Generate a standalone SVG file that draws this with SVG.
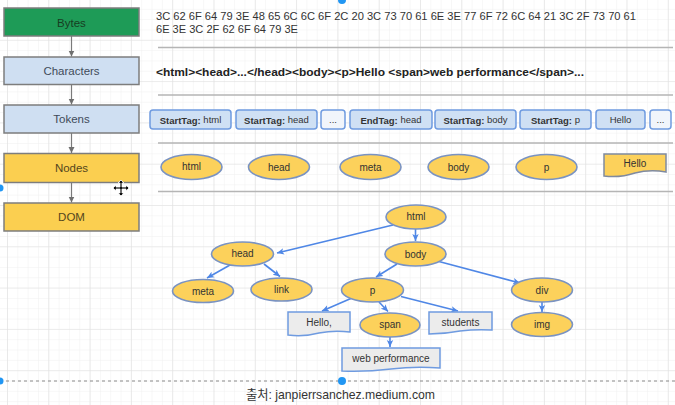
<svg xmlns="http://www.w3.org/2000/svg" width="675" height="405" viewBox="0 0 675 405">
<style>
.lbl{font-family:"Liberation Sans",Arial,sans-serif;font-size:11.5px;text-anchor:middle;dominant-baseline:central}
.stage{stroke:#7d7d7d;stroke-width:1.5}
.tok{fill:#cfe0f4;stroke:#6f9be0;stroke-width:1.5}
.tokd{fill:#f1f5fb;stroke:#6f9be0;stroke-width:1.5}
.tt{font-family:"Liberation Sans",Arial,sans-serif;font-size:9.5px;fill:#333;text-anchor:middle;dominant-baseline:central}
.nd{fill:#fcd15b;stroke:#7a93c2;stroke-width:1.6}
.nt{font-family:"Liberation Sans",Arial,sans-serif;font-size:10px;fill:#333;text-anchor:middle;dominant-baseline:central}
.doc{fill:#ececec;stroke:#6f9be0;stroke-width:1.5}
.sep{stroke:#b5b5b5;stroke-width:1.6}
.edge{stroke:#4f87e6;stroke-width:1.6;fill:none;marker-end:url(#ab)}
.gedge{stroke:#7a7a7a;stroke-width:1.2;fill:none;marker-end:url(#ag)}
.hdl{fill:#2196f3}
</style>
<defs>
<pattern id="minor" x="7" y="39.8" width="10.325" height="10.325" patternUnits="userSpaceOnUse">
<path d="M0 0H10.325M0 0V10.325" stroke="#f0f0f0" stroke-width="1" fill="none"/>
</pattern>
<pattern id="major" x="7" y="39.8" width="41.3" height="41.3" patternUnits="userSpaceOnUse">
<path d="M0 0H41.3M0 0V41.3" stroke="#e0e0e0" stroke-width="1.2" fill="none"/>
</pattern>
<marker id="ab" markerUnits="userSpaceOnUse" markerWidth="8" markerHeight="8" refX="7" refY="4" orient="auto">
<path d="M0 0.8L7 4L0 7.2L1.8 4Z" fill="#4f87e6"/>
</marker>
<marker id="ag" markerUnits="userSpaceOnUse" markerWidth="8" markerHeight="8" refX="6" refY="3.5" orient="auto">
<path d="M0 0.5L6 3.5L0 6.5Z" fill="#6f6f6f"/>
</marker>
</defs>
<rect width="675" height="405" fill="#ffffff"/>
<rect width="675" height="405" fill="url(#minor)"/>
<rect width="675" height="405" fill="url(#major)"/>

<g id="stages">
<g id="bytes"><rect class="stage" x="4" y="8" width="135" height="28" fill="#1e9b57"/><text class="lbl" x="71.5" y="22.5" fill="#173d22">Bytes</text></g>
<g id="characters"><rect class="stage" x="4" y="57" width="135" height="27.5" fill="#cfdff2"/><text class="lbl" x="71.5" y="71" fill="#3f4b5a">Characters</text></g>
<g id="tokens"><rect class="stage" x="4" y="105" width="135" height="28" fill="#cfdff2"/><text class="lbl" x="71.5" y="119" fill="#3f4b5a">Tokens</text></g>
<g id="nodes"><rect class="stage" x="4" y="153.5" width="135" height="29" fill="#fbcf50"/><text class="lbl" x="71.5" y="168" fill="#54461e">Nodes</text></g>
<g id="dom"><rect class="stage" x="4" y="203" width="135" height="28" fill="#fbcf50"/><text class="lbl" x="71.5" y="217" fill="#54461e">DOM</text></g>
</g>

<g id="stage-connectors">
<path class="gedge" d="M71.5 36V56.5"/>
<path class="gedge" d="M71.5 84.5V104.5"/>
<path class="gedge" d="M71.5 133V153"/>
<path class="gedge" d="M71.5 182.5V202.5"/>
</g>

<g id="separators">
<line class="sep" x1="158" y1="47.5" x2="673" y2="47.5"/>
<line class="sep" x1="158" y1="95" x2="673" y2="95"/>
<line class="sep" x1="158" y1="143" x2="673" y2="143"/>
<line class="sep" x1="158" y1="191.5" x2="673" y2="191.5"/>
</g>

<g id="bytes-text" font-family="Liberation Sans, Arial, sans-serif" font-size="11" fill="#333">
<text x="156" y="20" textLength="480" lengthAdjust="spacingAndGlyphs">3C 62 6F 64 79 3E 48 65 6C 6C 6F 2C 20 3C 73 70 61 6E 3E 77 6F 72 6C 64 21 3C 2F 73 70 61</text>
<text x="156" y="33" textLength="142" lengthAdjust="spacingAndGlyphs">6E 3E 3C 2F 62 6F 64 79 3E</text>
</g>

<g id="chars-text"><text x="156" y="75.5" font-family="Liberation Sans, Arial, sans-serif" font-size="11" font-weight="bold" fill="#222" textLength="428" lengthAdjust="spacingAndGlyphs">&lt;html&gt;&lt;head&gt;...&lt;/head&gt;&lt;body&gt;&lt;p&gt;Hello &lt;span&gt;web performance&lt;/span&gt;...</text></g>

<g id="token-row">
<g id="t1"><rect class="tok" x="150" y="110" width="81" height="19" rx="3"/><text class="tt" x="190.5" y="119.5"><tspan font-weight="bold">StartTag:</tspan> html</text></g>
<g id="t2"><rect class="tok" x="236" y="110" width="81" height="19" rx="3"/><text class="tt" x="276.5" y="119.5"><tspan font-weight="bold">StartTag:</tspan> head</text></g>
<g id="t3"><rect class="tokd" x="321" y="110" width="24" height="19" rx="3"/><text class="tt" x="333" y="119.5">...</text></g>
<g id="t4"><rect class="tok" x="350" y="110" width="82" height="19" rx="3"/><text class="tt" x="391" y="119.5"><tspan font-weight="bold">EndTag:</tspan> head</text></g>
<g id="t5"><rect class="tok" x="435" y="110" width="81" height="19" rx="3"/><text class="tt" x="475.5" y="119.5"><tspan font-weight="bold">StartTag:</tspan> body</text></g>
<g id="t6"><rect class="tok" x="520" y="110" width="71" height="19" rx="3"/><text class="tt" x="555.5" y="119.5"><tspan font-weight="bold">StartTag:</tspan> p</text></g>
<g id="t7"><rect class="tok" x="596" y="110" width="49" height="19" rx="3"/><text class="tt" x="620.5" y="119.5">Hello</text></g>
<g id="t8"><rect class="tokd" x="650" y="110" width="21" height="19" rx="3"/><text class="tt" x="660.5" y="119.5">...</text></g>
</g>

<g id="node-row">
<g id="n-html"><ellipse class="nd" cx="191.5" cy="167" rx="30.5" ry="12.5"/><text class="nt" x="191.5" y="166.5">html</text></g>
<g id="n-head"><ellipse class="nd" cx="279" cy="167" rx="30.5" ry="12.5"/><text class="nt" x="279" y="167">head</text></g>
<g id="n-meta"><ellipse class="nd" cx="370.5" cy="167" rx="30.5" ry="12.5"/><text class="nt" x="370.5" y="167">meta</text></g>
<g id="n-body"><ellipse class="nd" cx="458.5" cy="167" rx="30.5" ry="12.5"/><text class="nt" x="458.5" y="167.5">body</text></g>
<g id="n-p"><ellipse class="nd" cx="546.5" cy="167" rx="30.5" ry="12.5"/><text class="nt" x="546.5" y="167">p</text></g>
<g id="n-hello"><path d="M604 154H666V172Q650 169 635 173Q620 178 604 176Z" fill="#fcd15b" stroke="#7f8aa0" stroke-width="1.5"/><text class="nt" x="635" y="163.5">Hello</text></g>
</g>

<g id="dom-edges">
<path class="edge" d="M393 225L277 253"/>
<path class="edge" d="M415.5 229V241"/>
<path class="edge" d="M230 265L207 278"/>
<path class="edge" d="M264 264L280 276.5"/>
<path class="edge" d="M397 264L376 277"/>
<path class="edge" d="M437 261L520 283"/>
<path class="edge" d="M352 298L322 311"/>
<path class="edge" d="M379 302L388 311.5"/>
<path class="edge" d="M401 296.5L458 311"/>
<path class="edge" d="M390 337V347"/>
<path class="edge" d="M542 302V312"/>
</g>

<g id="dom-tree">
<g id="d-html"><ellipse class="nd" cx="416" cy="217" rx="30" ry="12"/><text class="nt" x="416" y="216.5">html</text></g>
<g id="d-body"><ellipse class="nd" cx="415.5" cy="254" rx="30.5" ry="12"/><text class="nt" x="415.5" y="254">body</text></g>
<g id="d-head"><ellipse class="nd" cx="242.5" cy="254" rx="31" ry="12"/><text class="nt" x="242.5" y="253.5">head</text></g>
<g id="d-meta"><ellipse class="nd" cx="203" cy="291" rx="30.5" ry="11.5"/><text class="nt" x="203" y="291">meta</text></g>
<g id="d-link"><ellipse class="nd" cx="281.5" cy="289.5" rx="30.5" ry="11.5"/><text class="nt" x="281.5" y="289">link</text></g>
<g id="d-p"><ellipse class="nd" cx="372.5" cy="290" rx="31" ry="12"/><text class="nt" x="372.5" y="290">p</text></g>
<g id="d-div"><ellipse class="nd" cx="542" cy="290" rx="30.5" ry="12"/><text class="nt" x="542" y="290">div</text></g>
<g id="d-span"><ellipse class="nd" cx="390" cy="325" rx="30" ry="12"/><text class="nt" x="390" y="324.5">span</text></g>
<g id="d-img"><ellipse class="nd" cx="542" cy="324.5" rx="30.5" ry="12"/><text class="nt" x="542" y="324.5">img</text></g>
<g id="d-hello"><path class="doc" d="M288 312H350V332Q334 330 319 333Q304 337 288 335Z"/><text class="nt" x="319" y="322.5">Hello,</text></g>
<g id="d-students"><path class="doc" d="M429 312H492V330Q476 329 460 331Q445 334 429 334Z"/><text class="nt" x="460.5" y="322">students</text></g>
<g id="d-web"><path class="doc" d="M342 348H440V368Q415 366 391 369Q366 372 342 371Z"/><text class="nt" x="391" y="358">web performance</text></g>
</g>

<g id="footer">
<line x1="0" y1="381" x2="675" y2="381" stroke="#8a8a8a" stroke-width="1" stroke-dasharray="3 3"/>
<text x="246" y="399" font-family="Liberation Sans, 'Noto Sans CJK KR', sans-serif" font-size="13" fill="#333" textLength="189" lengthAdjust="spacingAndGlyphs">출처: janpierrsanchez.medium.com</text>
</g>

<g id="handles">
<circle class="hdl" cx="342" cy="0" r="4"/>
<circle class="hdl" cx="342" cy="381" r="4"/>
<circle class="hdl" cx="0" cy="188" r="3.5"/>
<circle class="hdl" cx="0" cy="381" r="3.5"/>
</g>

<g id="cursor" transform="translate(121 188)">
<path d="M0 -8L3 -5H1V-1H5V-3L8 0L5 3V1H1V5H3L0 8L-3 5H-1V1H-5V3L-8 0L-5 -3V-1H-1V-5H-3Z" fill="#111" stroke="#fff" stroke-width="0.8"/>
</g>
</svg>
